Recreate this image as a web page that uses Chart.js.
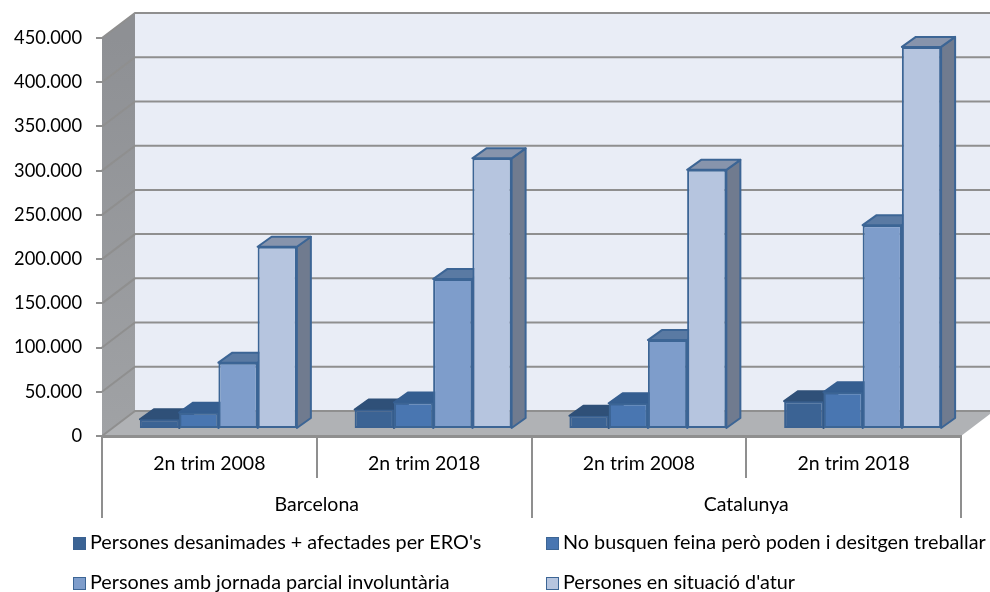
<!DOCTYPE html>
<html lang="ca">
<head>
<meta charset="UTF-8">
<title>Persones desanimades i aturades</title>
<script src="https://cdn.jsdelivr.net/npm/chart.js@4/dist/chart.umd.min.js"></script>
<style>
  body { margin: 0; background: #fff; }
  canvas { display: block; }
</style>
</head>
<body>
<canvas id="chart" width="990" height="592"></canvas>
<script>
// values
const categories = ['2n trim 2008', '2n trim 2018', '2n trim 2008', '2n trim 2018'];
const groupLabels = ['Barcelona', 'Catalunya'];
const seriesNames = [
  "Persones desanimades + afectades per ERO's",
  'No busquen feina però poden i desitgen treballar',
  'Persones amb jornada parcial involuntària',
  "Persones en situació d'atur"
];
const desanimades = [11000, 22000, 15000, 31500];
const noBusquen = [18500, 30000, 29000, 41500];
const parcial = [75000, 169500, 100500, 230500];
const atur = [206000, 306000, 293000, 432000];

const frontColors = ['#3b6394', '#4976b1', '#7e9dcb', '#b6c5df'];
const topColors = ['#2f5078', '#355e90', '#5a7aa3', '#8794ac'];
const sideColors = ['#2c4a70', '#305684', '#4d6a90', '#707b8f'];
const edgeColors = ['#3a6191', '#3c6595', '#3c6595', '#3c6595'];
const faceEdgeColors = ['#2f5078', '#355e90', '#3c6595', '#3c6595'];
const gridColor = '#8f8f8f';
const font = { family: 'Lato', size: 19.5 };

// depth of the fake 3D box and of the bars inside it
const WALL_DX = 33, WALL_DY = -25;
const BAR_SHIFT_X = 9, BAR_SHIFT_Y = -7;
const BAR_DX = 14, BAR_DY = -10;

function poly(ctx, pts, fill, stroke) {
  ctx.beginPath();
  pts.forEach((p, i) => i ? ctx.lineTo(p[0], p[1]) : ctx.moveTo(p[0], p[1]));
  ctx.closePath();
  ctx.fillStyle = fill;
  ctx.fill();
  if (stroke) {
    ctx.strokeStyle = stroke;
    ctx.lineWidth = 2;
    ctx.stroke();
  }
}

const box3d = {
  id: 'box3d',
  beforeDraw(chart) {
    const { ctx, chartArea: a, scales } = chart;
    ctx.save();
    // back wall
    poly(ctx, [[a.left + WALL_DX, a.top + WALL_DY], [a.right + WALL_DX, a.top + WALL_DY],
               [a.right + WALL_DX, a.bottom + WALL_DY], [a.left + WALL_DX, a.bottom + WALL_DY]], '#e9edf6');
    // left wall
    const grad = ctx.createLinearGradient(0, a.top, 0, a.bottom);
    grad.addColorStop(0, '#8e9094');
    grad.addColorStop(1, '#a0a2a5');
    poly(ctx, [[a.left, a.top], [a.left + WALL_DX, a.top + WALL_DY],
               [a.left + WALL_DX, a.bottom + WALL_DY], [a.left, a.bottom]], grad);
    // floor
    poly(ctx, [[a.left, a.bottom], [a.left + WALL_DX, a.bottom + WALL_DY],
               [a.right + WALL_DX, a.bottom + WALL_DY], [a.right, a.bottom]], '#b0b2b5');
    // gridlines on both walls
    ctx.strokeStyle = gridColor;
    ctx.lineWidth = 2;
    scales.y.ticks.forEach((t, i) => {
      const y = scales.y.getPixelForTick(i);
      ctx.beginPath();
      ctx.moveTo(a.left, y);
      ctx.lineTo(a.left + WALL_DX, y + WALL_DY);
      ctx.lineTo(a.right + WALL_DX, y + WALL_DY);
      ctx.stroke();
    });
    ctx.restore();
  },
  beforeDatasetsDraw(chart) {
    const ctx = chart.ctx;
    ctx.save();
    ctx.translate(BAR_SHIFT_X, BAR_SHIFT_Y);
    ctx.lineJoin = 'round';
    // tops and sides first, the library draws the fronts over them
    chart.data.datasets.forEach((ds, d) => {
      chart.getDatasetMeta(d).data.forEach(bar => {
        const l = bar.x - bar.width / 2, r = bar.x + bar.width / 2;
        poly(ctx, [[r, bar.y], [r + BAR_DX, bar.y + BAR_DY], [r + BAR_DX, bar.base + BAR_DY], [r, bar.base]], sideColors[d], faceEdgeColors[d]);
        poly(ctx, [[l, bar.y], [l + BAR_DX, bar.y + BAR_DY], [r + BAR_DX, bar.y + BAR_DY], [r, bar.y]], topColors[d], faceEdgeColors[d]);
      });
    });
  },
  afterDatasetsDraw(chart) {
    chart.ctx.restore();
  },
  afterDraw(chart) {
    // two column legend
    const ctx = chart.ctx;
    const cols = [73, 546], rows = [537, 577];
    ctx.save();
    ctx.font = '19.8px ' + font.family;
    ctx.textBaseline = 'middle';
    seriesNames.forEach((name, i) => {
      const x = cols[i % 2], y = rows[Math.floor(i / 2)];
      ctx.fillStyle = frontColors[i];
      ctx.strokeStyle = edgeColors[i];
      ctx.lineWidth = 1;
      ctx.fillRect(x, y, 13, 13);
      ctx.strokeRect(x + 0.5, y + 0.5, 12, 12);
      ctx.fillStyle = '#000';
      ctx.fillText(name, x + 17, y + 6);
    });
    ctx.restore();
  }
};

new Chart(document.getElementById('chart'), {
  type: 'bar',
  data: {
    labels: categories,
    datasets: [desanimades, noBusquen, parcial, atur].map((values, i) => ({
      label: seriesNames[i],
      data: values,
      backgroundColor: frontColors[i],
      borderColor: edgeColors[i],
      borderWidth: 2,
      borderSkipped: false,
      categoryPercentage: 0.731,
      barPercentage: 1
    }))
  },
  options: {
    responsive: false,
    animation: false,
    layout: { padding: { top: 38, right: 29, bottom: 74, left: 0 } },
    plugins: { legend: { display: false }, tooltip: { enabled: false } },
    scales: {
      y: {
        min: 0,
        max: 450000,
        afterFit: s => { s.width = 102; },
        grid: { drawOnChartArea: false, tickLength: 6, color: gridColor, lineWidth: 2 },
        border: { display: false },
        ticks: {
          stepSize: 50000,
          padding: 14,
          color: '#000',
          font: { family: font.family, size: 18.3 },
          callback: v => String(v).replace(/\B(?=(\d{3})+$)/g, '.')
        }
      },
      x: {
        offset: true,
        afterFit: s => { s.height = 42; },
        grid: { offset: true, drawOnChartArea: false, tickLength: 42, color: gridColor, lineWidth: 2 },
        border: { color: gridColor, width: 3 },
        ticks: { padding: -26, color: '#000', font, autoSkip: false, maxRotation: 0 }
      },
      x2: {
        type: 'category',
        axis: 'x',
        position: 'bottom',
        labels: groupLabels,
        offset: true,
        afterFit: s => { s.height = 40; },
        grid: { offset: true, drawOnChartArea: false, tickLength: 40, color: gridColor, lineWidth: 2 },
        border: { display: false },
        ticks: { padding: -25, color: '#000', font, autoSkip: false, maxRotation: 0 }
      }
    }
  },
  plugins: [box3d]
});
</script>
</body>
</html>
